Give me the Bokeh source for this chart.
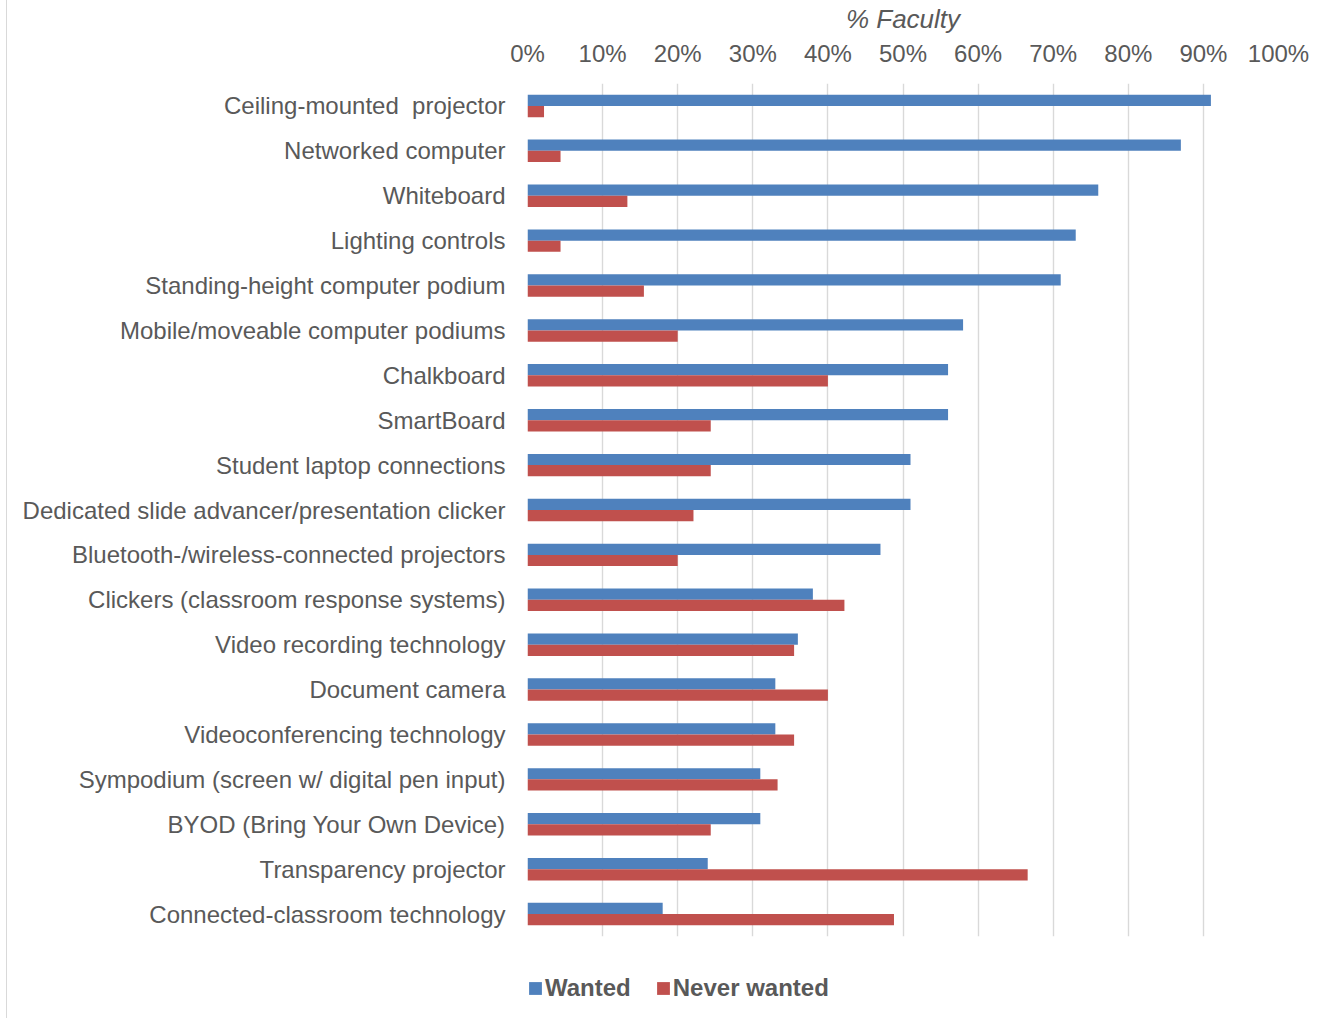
from bokeh.plotting import figure
from bokeh.layouts import column
from bokeh.models import FactorRange, Legend, LegendItem, FixedTicker, PrintfTickFormatter, ColumnDataSource
from bokeh.transform import dodge
from bokeh.embed import file_html
from bokeh.resources import INLINE

categories = [
    "Ceiling-mounted \u00a0projector",
    "Networked computer",
    "Whiteboard",
    "Lighting controls",
    "Standing-height computer podium",
    "Mobile/moveable computer podiums",
    "Chalkboard",
    "SmartBoard",
    "Student laptop connections",
    "Dedicated slide advancer/presentation clicker",
    "Bluetooth-/wireless-connected projectors",
    "Clickers (classroom response systems)",
    "Video recording technology",
    "Document camera",
    "Videoconferencing technology",
    "Sympodium (screen w/ digital pen input)",
    "BYOD (Bring Your Own Device)",
    "Transparency projector",
    "Connected-classroom technology",
]
wanted = [91, 87, 76, 73, 71, 58, 56, 56, 51, 51, 47, 38, 36, 33, 33, 31, 31, 24, 18]
never_wanted = [2.2, 4.4, 13.3, 4.4, 15.5, 20.0, 40.0, 24.4, 24.4, 22.1, 20.0, 42.2, 35.5, 40.0, 35.5, 33.3, 24.4, 66.6, 48.8]
x_ticks = [0, 10, 20, 30, 40, 50, 60, 70, 80, 90, 100]
series_names = ["Wanted", "Never wanted"]

BLUE = "#4F81BD"
RED = "#C0504D"
TXT = "#595959"
FONT = "Liberation Sans"

source = ColumnDataSource(dict(cat=categories, wanted=wanted, never=never_wanted))

p = figure(
    y_range=FactorRange(*reversed(categories)),
    x_range=(0, 100),
    frame_width=751, frame_height=853,
    x_axis_location="above",
    output_backend="svg", toolbar_location=None,
    min_border_left=520, min_border_right=34,
    min_border_top=60, min_border_bottom=30,
)

p.hbar(y=dodge("cat", 0.125, range=p.y_range), right="wanted", left=0, height=0.25,
       source=source, fill_color=BLUE, line_color=None)
p.hbar(y=dodge("cat", -0.125, range=p.y_range), right="never", left=0, height=0.25,
       source=source, fill_color=RED, line_color=None)

p.outline_line_color = None
p.background_fill_color = "white"
p.border_fill_color = "white"

p.ygrid.grid_line_color = None
p.xgrid.grid_line_color = "#D9D9D9"
p.xgrid.grid_line_width = 1.4
p.xgrid.ticker = FixedTicker(ticks=x_ticks)

xa = p.xaxis[0]
xa.ticker = FixedTicker(ticks=x_ticks)
xa.formatter = PrintfTickFormatter(format="%d%%")
xa.axis_line_color = None
xa.major_tick_line_color = None
xa.minor_tick_line_color = None
xa.major_tick_out = 0
xa.major_tick_in = 0
xa.major_label_text_font = FONT
xa.major_label_text_font_size = "24px"
xa.major_label_text_color = TXT
xa.major_label_standoff = 17
xa.axis_label = "% Faculty"
xa.axis_label_text_font = FONT
xa.axis_label_text_font_style = "italic"
xa.axis_label_text_font_size = "26px"
xa.axis_label_text_color = TXT
xa.axis_label_standoff = 3

ya = p.yaxis[0]
ya.axis_line_color = None
ya.major_tick_line_color = None
ya.minor_tick_line_color = None
ya.major_tick_out = 0
ya.major_tick_in = 0
ya.major_label_text_font = FONT
ya.major_label_text_font_size = "24px"
ya.major_label_text_color = TXT
ya.major_label_standoff = 22

# Legend strip (separate figure so the legend sits below the plot without clipping)
leg = figure(
    width=1305, height=52, x_range=(0, 1), y_range=(0, 1),
    x_axis_location=None, y_axis_location=None,
    output_backend="svg", toolbar_location=None,
    min_border_left=0, min_border_right=0, min_border_top=0, min_border_bottom=0,
)
leg.grid.visible = False
leg.outline_line_color = None
leg.background_fill_color = "white"
leg.border_fill_color = "white"
# swatch-only renderers (zero-width, outside the visible range)
swatch = ColumnDataSource(dict(y=[-5], right=[0]))
s1 = leg.hbar(y="y", right="right", left=0, height=0.1, source=swatch, fill_color=BLUE, line_color=None)
s2 = leg.hbar(y="y", right="right", left=0, height=0.1, source=swatch, fill_color=RED, line_color=None)

legend = Legend(
    items=[LegendItem(label=series_names[0], renderers=[s1]),
           LegendItem(label=series_names[1], renderers=[s2])],
    location=(0, 16), orientation="horizontal",
    label_text_font=FONT, label_text_font_size="24px", label_text_font_style="bold",
    label_text_color=TXT, glyph_width=16, glyph_height=16, label_height=24,
    label_standoff=2, spacing=24, padding=0, margin=0,
    border_line_color=None, background_fill_alpha=0,
)
leg.add_layout(legend, "center")

layout = column(p, leg, spacing=0)
layout.styles = {"border-left": "1px solid #D9D9D9", "margin-left": "6px"}

open("out.html", "w").write(file_html(layout, INLINE))
